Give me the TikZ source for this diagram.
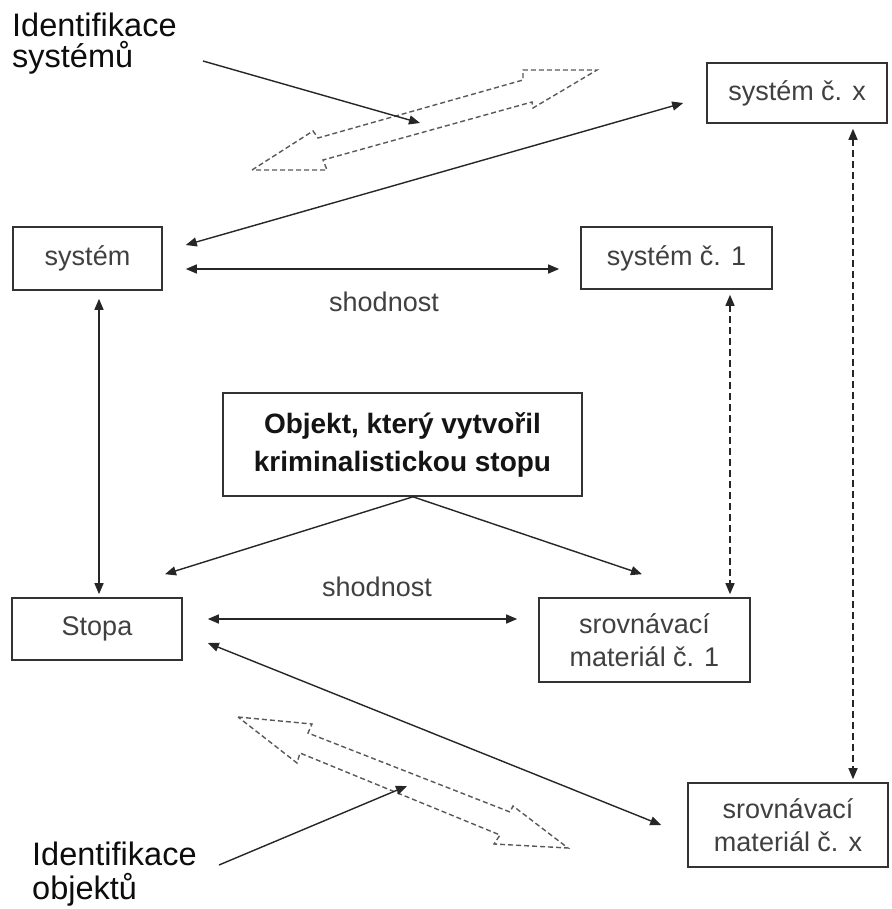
\documentclass[tikz,border=0pt]{standalone}
\usepackage{fontspec}
\setmainfont{Liberation Sans}
\usetikzlibrary{arrows.meta,calc}
\begin{document}
\begin{tikzpicture}[x=1pt,y=-1pt,
  box/.style={draw=black!80,line width=1.6pt,inner sep=0pt,align=center,
    text=black!75,font=\fontsize{27}{33}\selectfont},
  lbl/.style={text=black!75,font=\fontsize{27}{33}\selectfont},
  big/.style={text=black!95,font=\fontsize{32.5}{31}\selectfont,align=left,
    inner sep=0pt,anchor=north west},
  tip/.style={-{Triangle[length=11pt,width=9pt]}},
  both/.style={{Triangle[length=11pt,width=9pt]}-{Triangle[length=11pt,width=9pt]}},
  link/.style={draw=black!85,line width=1.4pt},
  dlink/.style={link,dash pattern=on 7pt off 4pt},
  block/.style={draw=black!65,line width=1.4pt,dash pattern=on 5pt off 3pt,line join=miter}
]
\useasboundingbox[fill=white] (0,0) rectangle (891,909);

% boxes
\node[box,minimum width=149pt,minimum height=63pt] (sys)   at (87.5,258.5) {systém};
\node[box,minimum width=191pt,minimum height=62pt] (sys1)  at (676.5,258)  {systém č. 1};
\node[box,minimum width=180pt,minimum height=60pt] (sysx)  at (797,93)     {systém č. x};
\node[box,minimum width=359pt,minimum height=103pt,text=black!92,
      font=\fontsize{28}{38}\selectfont\bfseries] (obj) at (402.5,444.5)
      {Objekt, který vytvořil\\kriminalistickou stopu};
\node[box,minimum width=170pt,minimum height=62pt] (stopa) at (97,629)     {Stopa};
\node[box,minimum width=211pt,minimum height=84pt] (srov1) at (644.5,640)  {srovnávací\\materiál č. 1};
\node[box,minimum width=200pt,minimum height=84pt] (srovx) at (788,825)    {srovnávací\\materiál č. x};

% labels
\node[lbl] (sh1) at (384,302) {shodnost};
\node[lbl] (sh2) at (377,587) {shodnost};
\node[big] (idsys) at (12,13) {Identifikace\\systémů};
\node[big,font=\fontsize{32.5}{34}\selectfont] (idobj) at (32,842) {Identifikace\\objektů};

% connectors between boxes
\draw[link,both] ($(sysx.west)+(-23,10)$) -- ($(sys.east)+(23,-13.5)$);
\draw[link,both] ($(sys.east)+(23,10.5)$) -- ($(sys1.west)+(-21,11)$);
\draw[link,both] ($(sys.south)+(11.5,8)$) -- ($(stopa.north)+(2,-3)$);
\draw[dlink,both] ($(sys1.south)+(53.5,5)$) -- ($(srov1.north)+(85.5,-3)$);
\draw[dlink,both] ($(sysx.south)+(56,5)$) -- ($(srovx.north)+(65,-3)$);
\draw[link,tip] ($(obj.south)+(10.5,0)$) -- ($(stopa.north)+(68,-23)$);
\draw[link,tip] ($(obj.south)+(10.5,0)$) -- ($(srov1.north)+(-2.5,-23)$);
\draw[link,both] ($(stopa.east)+(25,-10)$) -- ($(srov1.west)+(-21,-21)$);
\draw[link,both] ($(stopa.east)+(25,14)$) -- ($(srovx.west)+(-26,0)$);

% hollow dashed double arrows
\draw[block] (252,170) -- (313,131) -- (318,138) -- (523,80) -- (523,70) -- (597,70)
  -- (533,108) -- (532,102) -- (323,160) -- (327,170) -- cycle;
\draw[block] (238,717) -- (312,724) -- (308,733) -- (510,812) -- (513,806) -- (568,848)
  -- (494,844) -- (500,835) -- (300,753) -- (297,763) -- cycle;

% pointers from the two headings
\coordinate (s1) at (203,61);
\coordinate (s2) at (420,123);
\draw[link,tip] (s1) -- (s2);
\coordinate (o1) at (219,865);
\coordinate (o2) at (407,786);
\draw[link,tip] (o1) -- (o2);
\end{tikzpicture}
\end{document}
